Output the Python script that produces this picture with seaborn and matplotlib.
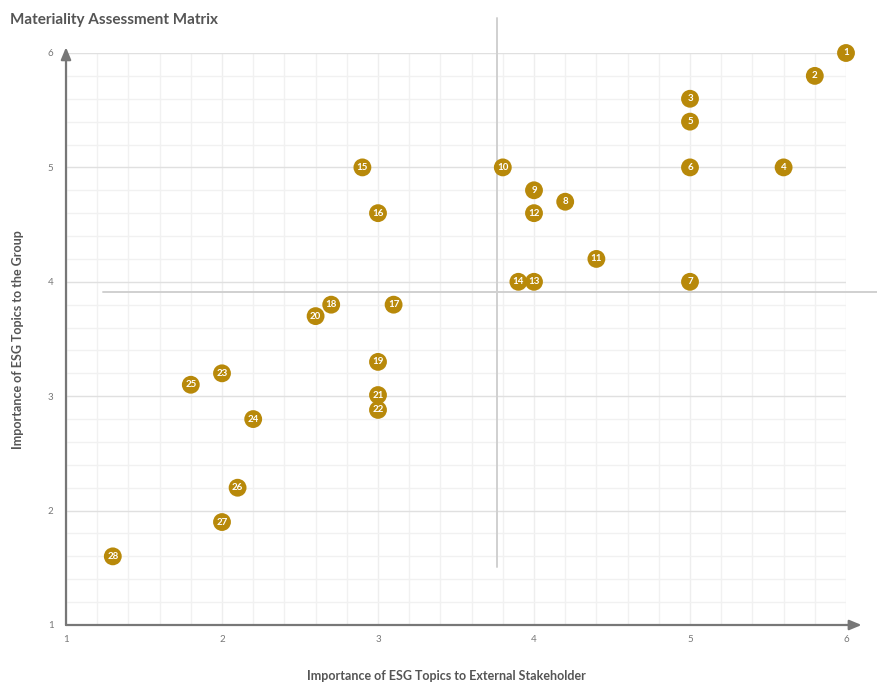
import matplotlib
matplotlib.use("Agg")
import matplotlib.pyplot as plt
import seaborn as sns
import pandas as pd
from matplotlib.ticker import MultipleLocator

# ESG topics: id, importance to external stakeholders (x), importance to the group (y)
topic_ids = [1, 2, 3, 4, 5, 6, 7, 8, 9, 10, 11, 12, 13, 14,
             15, 16, 17, 18, 19, 20, 21, 22, 23, 24, 25, 26, 27, 28]
external_importance = [6.0, 5.8, 5.0, 5.6, 5.0, 5.0, 5.0, 4.2, 4.0, 3.8, 4.4, 4.0, 4.0, 3.9,
                       2.9, 3.0, 3.1, 2.7, 3.0, 2.6, 3.0, 3.0, 2.0, 2.2, 1.8, 2.1, 2.0, 1.3]
group_importance = [6.0, 5.8, 5.6, 5.0, 5.4, 5.0, 4.0, 4.7, 4.8, 5.0, 4.2, 4.6, 4.0, 4.0,
                    5.0, 4.6, 3.8, 3.8, 3.3, 3.7, 3.01, 2.88, 3.2, 2.8, 3.1, 2.2, 1.9, 1.6]

# Quadrant divider positions
x_divider = 3.76
y_divider = 3.91

df = pd.DataFrame({"id": topic_ids, "x": external_importance, "y": group_importance})

sns.set_theme(style="white")
plt.rcParams["font.family"] = ["Lato", "DejaVu Sans"]

fig = plt.figure(figsize=(8.78, 6.84), dpi=100)
ax = fig.add_axes([66 / 878, 1 - 625 / 684, 780 / 878, 572 / 684])

ax.set_xlim(1, 6)
ax.set_ylim(1, 6)
ax.xaxis.set_major_locator(MultipleLocator(1))
ax.yaxis.set_major_locator(MultipleLocator(1))
ax.xaxis.set_minor_locator(MultipleLocator(0.2))
ax.yaxis.set_minor_locator(MultipleLocator(0.2))
ax.grid(which="minor", color="#f1f1f1", lw=1.0, zorder=0)
ax.xaxis.grid(which="major", color="#eeeeee", lw=1.0, zorder=0)
ax.yaxis.grid(which="major", color="#e0e0e0", lw=1.0, zorder=0)
ax.set_axisbelow(True)

for s in ["top", "right", "left", "bottom"]:
    ax.spines[s].set_visible(False)

# axis lines with arrowheads
axis_col = "#777777"
ax.annotate("", xy=(6.1, 1), xytext=(1, 1), xycoords="data",
            arrowprops=dict(arrowstyle="-|>,head_length=0.6,head_width=0.25",
                            color=axis_col, lw=1.6, shrinkA=0, shrinkB=0),
            annotation_clip=False)
ax.annotate("", xy=(1, 6.05), xytext=(1, 1), xycoords="data",
            arrowprops=dict(arrowstyle="-|>,head_length=0.6,head_width=0.25",
                            color=axis_col, lw=1.6, shrinkA=0, shrinkB=0),
            annotation_clip=False)

# quadrant dividers
ax.plot([x_divider, x_divider], [1.507, 6.306], color="#d0d0d0", lw=1.4,
        clip_on=False, zorder=1)
ax.plot([1.237, 6.205], [y_divider, y_divider], color="#d0d0d0", lw=1.4,
        clip_on=False, zorder=1)

sns.scatterplot(data=df, x="x", y="y", ax=ax, s=165, color="#b8890a",
                edgecolor="none", linewidth=0, zorder=3, clip_on=False, legend=False)

for tid, xv, yv in zip(topic_ids, external_importance, group_importance):
    ax.text(xv, yv, str(tid), color="white", fontsize=7, fontweight="bold",
            ha="center", va="center", zorder=4)

ax.tick_params(axis="both", which="both", length=0, labelsize=7, labelcolor="#777777")
ax.tick_params(axis="x", pad=7)
ax.tick_params(axis="y", pad=9)
ax.set_xlabel("")
ax.set_ylabel("")

label_col = "#555555"
fig.text(446 / 878, 1 - 676 / 684, "Importance of ESG Topics to External Stakeholder",
         fontsize=9, fontweight="bold", color=label_col, ha="center", va="center")
fig.text(18 / 878, 1 - 340 / 684, "Importance of ESG Topics to the Group",
         fontsize=9, fontweight="bold", color=label_col, ha="center", va="center",
         rotation=90)
fig.text(10 / 878, 1 - 20 / 684, "Materiality Assessment Matrix", fontsize=11,
         fontweight="bold", color=label_col, ha="left", va="center")

fig.savefig("out.png", dpi=100)
